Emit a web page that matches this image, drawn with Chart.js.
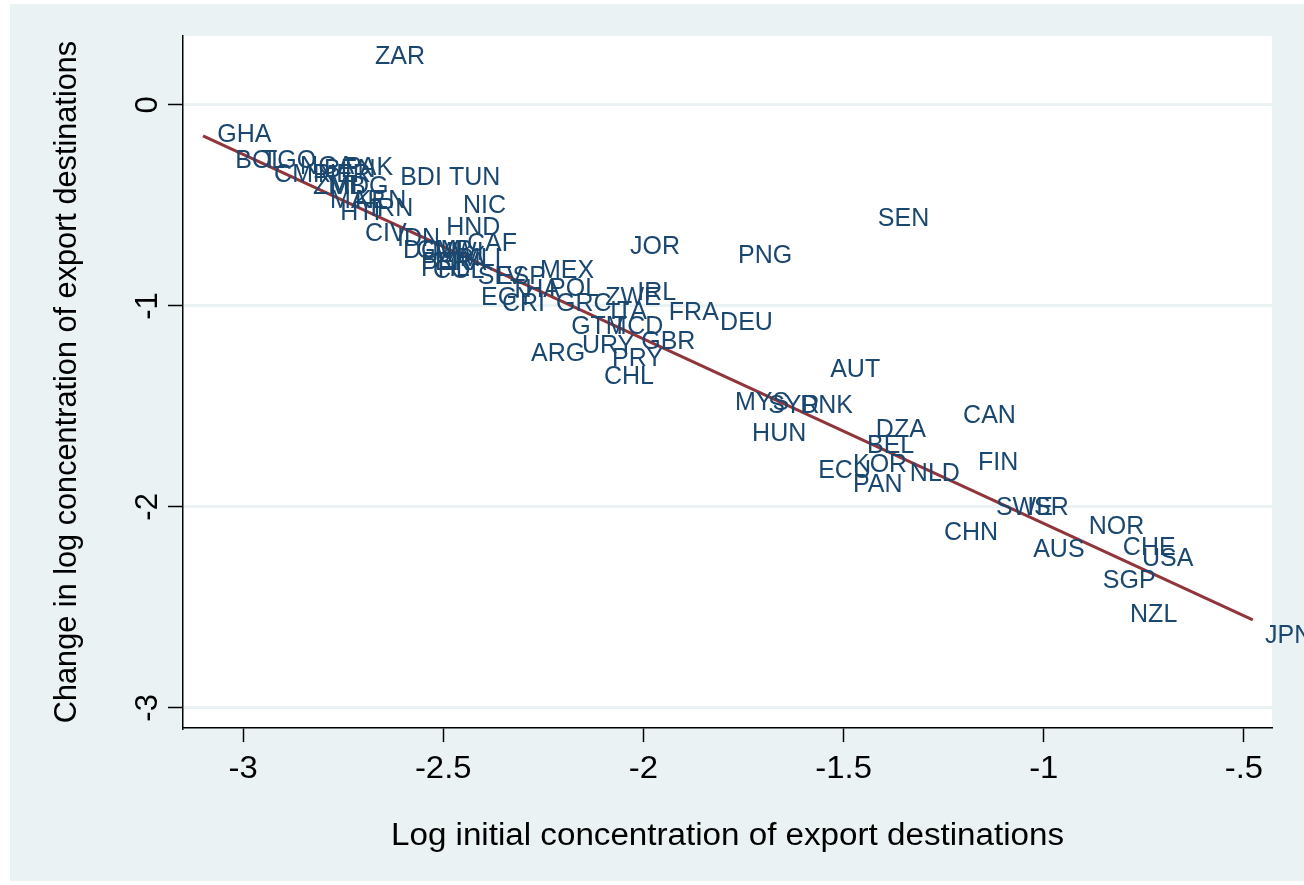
<!DOCTYPE html>
<html>
<head>
<meta charset="utf-8">
<script src="https://cdn.jsdelivr.net/npm/chart.js@4"></script>
<style>
  html, body { margin: 0; padding: 0; background: #ffffff; }
  #wrap { width: 1304px; height: 885px; }
</style>
</head>
<body>
<div id="wrap"><canvas id="c" width="1304" height="885"></canvas></div>
<script>
// Country codes with initial concentration (x) and its change (y)
const countries = [
  "ZAR","GHA","BOL","TGO","CMR","NGA","PAK","NER","BEN","ZMB","MDG","MAR","KEN","HTI","IRN",
  "BDI","TUN","NIC","HND","CIV","IDN","DOM","GMB","CAF","MWI","MLI","PER","BRA","PHL","COL",
  "SLV","ESP","MEX","EGY","THA","POL","CRI","GRC","ZWE","IRL","ITA","GTM","TCD","FRA","DEU",
  "URY","GBR","ARG","PRY","CHL","JOR","PNG","SEN","AUT","MYS","SYR","DNK","HUN","DZA","BEL",
  "ECU","KOR","PAN","NLD","CAN","FIN","SWE","ISR","CHN","NOR","AUS","CHE","USA","SGP","NZL","JPN"
];
const initConc = [
  -2.703,-3.097,-3.052,-2.985,-2.955,-2.890,-2.778,-2.845,-2.830,-2.858,-2.815,-2.815,-2.753,-2.790,-2.715,
  -2.640,-2.518,-2.483,-2.525,-2.728,-2.648,-2.633,-2.600,-2.473,-2.560,-2.491,-2.588,-2.553,-2.588,-2.558,
  -2.446,-2.401,-2.291,-2.438,-2.366,-2.268,-2.386,-2.251,-2.128,-2.048,-2.116,-2.213,-2.111,-1.969,-1.841,
  -2.186,-2.038,-2.313,-2.111,-2.131,-2.066,-1.796,-1.447,-1.566,-1.804,-1.721,-1.641,-1.761,-1.452,-1.474,
  -1.596,-1.509,-1.509,-1.367,-1.234,-1.197,-1.152,-1.074,-1.282,-0.920,-1.059,-0.835,-0.787,-0.885,-0.817,-0.480
];
const changeConc = [
   0.244,-0.144,-0.274,-0.274,-0.343,-0.303,-0.308,-0.343,-0.320,-0.403,-0.403,-0.473,-0.473,-0.532,-0.512,
  -0.358,-0.358,-0.498,-0.607,-0.637,-0.662,-0.721,-0.721,-0.687,-0.731,-0.761,-0.781,-0.781,-0.811,-0.821,
  -0.851,-0.851,-0.821,-0.955,-0.915,-0.910,-0.985,-0.985,-0.955,-0.930,-1.025,-1.100,-1.100,-1.030,-1.080,
  -1.194,-1.174,-1.234,-1.259,-1.348,-0.701,-0.746,-0.562,-1.313,-1.478,-1.493,-1.493,-1.632,-1.612,-1.692,
  -1.816,-1.786,-1.886,-1.831,-1.542,-1.776,-2.000,-2.000,-2.124,-2.095,-2.209,-2.199,-2.254,-2.363,-2.532,-2.637
];

// Fitted regression line end points
const fitX = [-3.10, -0.478];
const fitY = [-0.154, -2.562];

// Axis ticks
const xTickValues = [-3, -2.5, -2, -1.5, -1, -0.5];
const xTickLabels = ["-3", "-2.5", "-2", "-1.5", "-1", "-.5"];
const yTickValues = [-3, -2, -1, 0];
const yTickLabels = ["-3", "-2", "-1", "0"];

const xTitle = "Log initial concentration of export destinations";
const yTitle = "Change in log concentration of export destinations";

const FONT = '"Liberation Sans", Arial, Helvetica, sans-serif';
const OUTER_BG = "#eaf2f3";
const LABEL_COLOR = "#1a476f";
const FIT_COLOR = "#90353b";

const points = countries.map((c, i) => ({ x: initConc[i], y: changeConc[i], code: c }));
const fitLine = fitX.map((x, i) => ({ x: x, y: fitY[i] }));

// Background panels: outer graph region and white plot region
const backgroundPlugin = {
  id: "panels",
  beforeDraw(chart) {
    const ctx = chart.ctx;
    const a = chart.chartArea;
    ctx.save();
    ctx.fillStyle = "#ffffff";
    ctx.fillRect(0, 0, chart.width, chart.height);
    ctx.fillStyle = OUTER_BG;
    ctx.fillRect(10, 4, chart.width - 10, chart.height - 8);
    ctx.fillStyle = "#ffffff";
    ctx.fillRect(a.left, a.top, a.right - a.left, a.bottom - a.top);
    ctx.restore();
  }
};

// Country code labels placed to the right of each (invisible) marker
const markerLabelPlugin = {
  id: "markerLabels",
  afterDatasetsDraw(chart) {
    const ctx = chart.ctx;
    const xs = chart.scales.x, ys = chart.scales.y;
    ctx.save();
    ctx.font = "25px " + FONT;
    ctx.fillStyle = LABEL_COLOR;
    ctx.textAlign = "left";
    ctx.textBaseline = "middle";
    points.forEach(p => {
      ctx.fillText(p.code, xs.getPixelForValue(p.x) + 13, ys.getPixelForValue(p.y) + 1);
    });
    ctx.restore();
  }
};

// Horizontally widened text, as the graph's text is slightly wide
function wideText(ctx, text, x, y, sx) {
  ctx.save();
  ctx.translate(x, y);
  ctx.scale(sx, 1);
  ctx.fillText(text, 0, 0);
  ctx.restore();
}

// Tick labels and axis titles
const axisTextPlugin = {
  id: "axisText",
  afterDraw(chart) {
    const ctx = chart.ctx;
    const a = chart.chartArea;
    const xs = chart.scales.x, ys = chart.scales.y;
    ctx.save();
    ctx.fillStyle = "#000000";
    ctx.font = "31px " + FONT;
    ctx.textAlign = "center";
    ctx.textBaseline = "middle";
    xTickValues.forEach((v, i) => {
      wideText(ctx, xTickLabels[i], xs.getPixelForValue(v), a.bottom + 41, 1.06);
    });
    yTickValues.forEach((v, i) => {
      ctx.save();
      ctx.translate(a.left - 35, ys.getPixelForValue(v));
      ctx.rotate(-Math.PI / 2);
      ctx.fillText(yTickLabels[i], 0, 0);
      ctx.restore();
    });
    ctx.font = "31px " + FONT;
    wideText(ctx, xTitle, (a.left + a.right) / 2, a.bottom + 108, 1.07);
    ctx.font = "30.7px " + FONT;
    ctx.save();
    ctx.translate(a.left - 115, (a.top + a.bottom) / 2);
    ctx.rotate(-Math.PI / 2);
    ctx.fillText(yTitle, 0, 0);
    ctx.restore();
    ctx.restore();
  }
};

new Chart(document.getElementById("c"), {
  data: {
    datasets: [
      {
        type: "scatter",
        data: points,
        pointRadius: 0,
        pointHoverRadius: 0,
        showLine: false
      },
      {
        type: "line",
        data: fitLine,
        borderColor: FIT_COLOR,
        borderWidth: 3,
        pointRadius: 0,
        fill: false,
        tension: 0
      }
    ]
  },
  options: {
    responsive: false,
    devicePixelRatio: 1,
    animation: false,
    events: [],
    layout: { padding: { left: 0, top: 36, right: 32, bottom: 0 } },
    plugins: { legend: { display: false }, tooltip: { enabled: false } },
    scales: {
      x: {
        type: "linear",
        position: "bottom",
        min: -3.15,
        max: -0.43,
        afterBuildTicks(scale) { scale.ticks = xTickValues.map(v => ({ value: v })); },
        afterFit(scale) { scale.height = 157; },
        ticks: { display: false },
        grid: { drawOnChartArea: false, drawTicks: true, tickLength: 14, tickColor: "#000000", tickWidth: 1.5 },
        border: { display: true, color: "#000000", width: 1.5 }
      },
      y: {
        type: "linear",
        position: "left",
        min: -3.1,
        max: 0.343,
        afterBuildTicks(scale) { scale.ticks = yTickValues.map(v => ({ value: v })); },
        afterFit(scale) { scale.width = 183; },
        ticks: { display: false },
        grid: { color: OUTER_BG, lineWidth: 3, drawTicks: true, tickLength: 15, tickColor: "#000000", tickWidth: 1.5 },
        border: { display: true, color: "#000000", width: 1.5 }
      }
    }
  },
  plugins: [backgroundPlugin, markerLabelPlugin, axisTextPlugin]
});
</script>
</body>
</html>
